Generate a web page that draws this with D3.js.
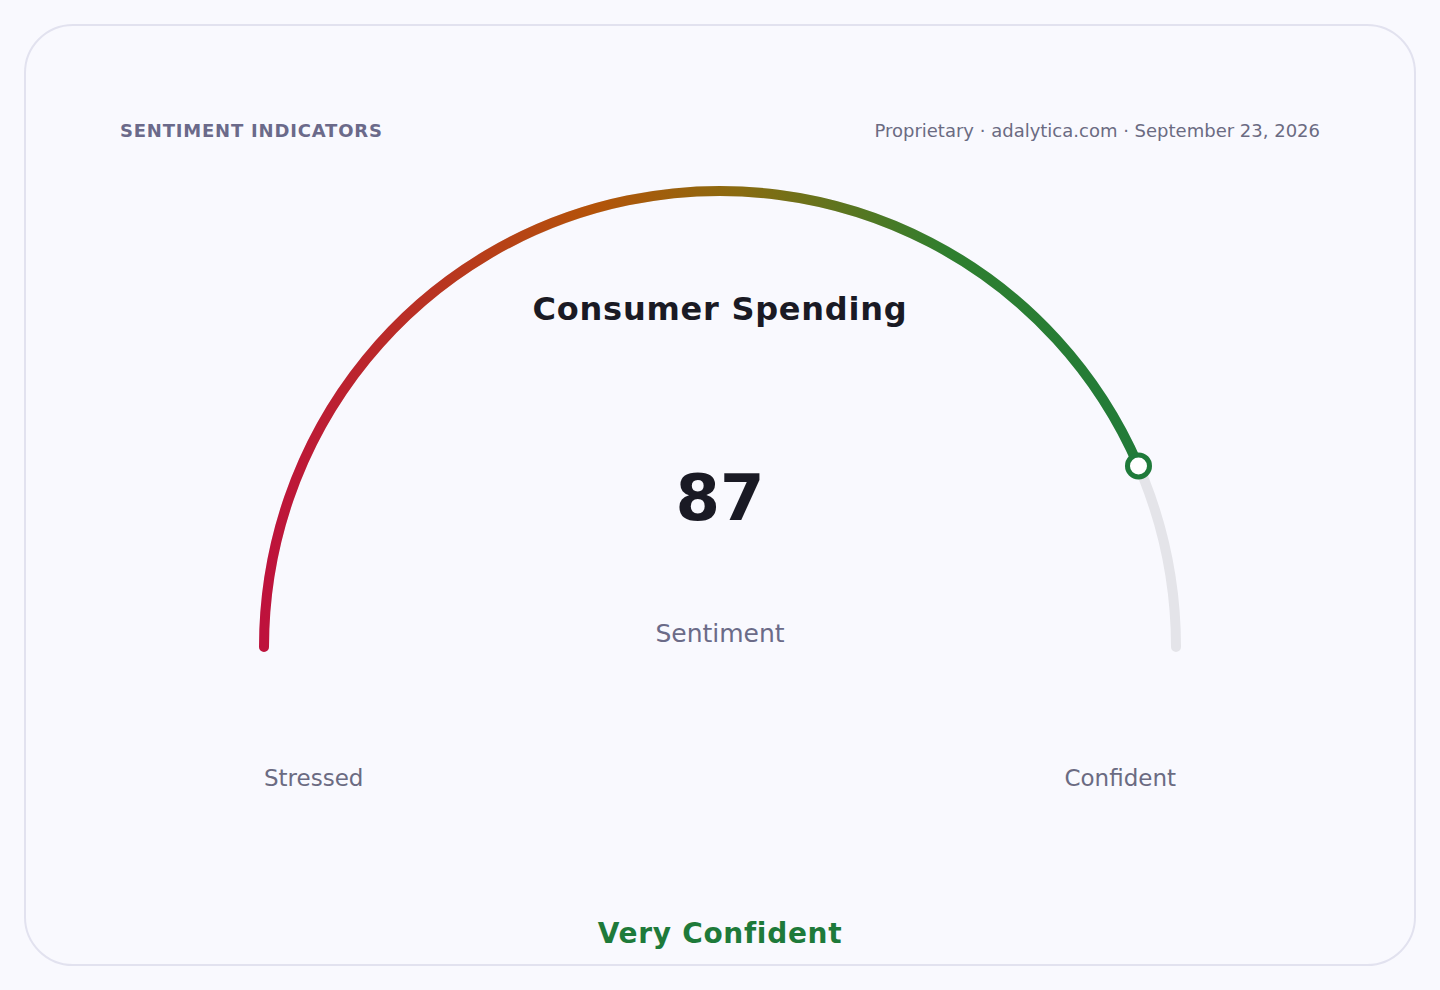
<!DOCTYPE html>
<html><head><meta charset="utf-8">
<script src="https://cdn.jsdelivr.net/npm/d3@7"></script>
<style>
html,body{margin:0;padding:0;background:#f9f9fe;}
svg{display:block;font-family:"DejaVu Sans",sans-serif;}
</style></head>
<body>
<svg id="chart" width="1440" height="990"></svg>
<script>
const eyebrow = "SENTIMENT INDICATORS";
const meta = "Proprietary · adalytica.com · September 23, 2026";
const title = "Consumer Spending";
const value = 87;
const domain = [0, 100];
const metricLabel = "Sentiment";
const endLabels = ["Stressed", "Confident"];
const verdict = "Very Confident";
const gradientStops = [
  {offset: 0, color: "#be123c"},
  {offset: 0.36, color: "#b45309"},
  {offset: 0.52, color: "#8a6b10"},
  {offset: 0.75, color: "#2f7f2f"},
  {offset: 1, color: "#1f7a3a"}
];

const svg = d3.select("#chart");
const cx = 720, cy = 647, R = 456;

svg.append("rect").attr("x",25).attr("y",25).attr("width",1390).attr("height",940)
  .attr("rx",48).attr("fill","#f9f9fe").attr("stroke","#e2e2ef").attr("stroke-width",2);

const defs = svg.append("defs");
const grad = defs.append("linearGradient").attr("id","g").attr("gradientUnits","userSpaceOnUse")
  .attr("x1",cx-R).attr("x2",cx+R).attr("y1",0).attr("y2",0);
grad.selectAll("stop").data(gradientStops).join("stop")
  .attr("offset",d=>d.offset).attr("stop-color",d=>d.color);

const angle = d3.scaleLinear().domain(domain).range([-Math.PI/2, Math.PI/2]);

function arcPath(a0,a1){
  const p = d3.path();
  p.arc(cx,cy,R,a0-Math.PI/2,a1-Math.PI/2,false);
  return p.toString();
}
svg.append("path").attr("d",arcPath(angle(domain[0]),angle(domain[1])))
  .attr("fill","none").attr("stroke","#e4e4e9").attr("stroke-width",10).attr("stroke-linecap","round");
svg.append("path").attr("d",arcPath(angle(domain[0]),angle(value)))
  .attr("fill","none").attr("stroke","url(#g)").attr("stroke-width",10).attr("stroke-linecap","round");

const a = angle(value);
svg.append("circle").attr("cx",cx+R*Math.sin(a)).attr("cy",cy-R*Math.cos(a)).attr("r",11)
  .attr("fill","#ffffff").attr("stroke","#1f7a3a").attr("stroke-width",5);

svg.append("text").attr("x",120).attr("y",137).text(eyebrow)
  .attr("font-size",18).attr("font-weight","bold").attr("fill","#6b6a8a").attr("letter-spacing",0.8);
svg.append("text").attr("x",1320).attr("y",137).attr("text-anchor","end").text(meta)
  .attr("font-size",18).attr("fill","#6b6b82");
svg.append("text").attr("x",cx).attr("y",320).attr("text-anchor","middle").text(title)
  .attr("font-size",32).attr("font-weight","bold").attr("fill","#1a1a24").attr("letter-spacing",0.75);
svg.append("text").attr("x",cx).attr("y",520).attr("text-anchor","middle").text(value)
  .attr("font-size",64).attr("font-weight","bold").attr("fill","#1a1a24");
svg.append("text").attr("x",cx).attr("y",642).attr("text-anchor","middle").text(metricLabel)
  .attr("font-size",25).attr("fill","#6b6b88");
svg.append("text").attr("x",cx-R).attr("y",786).text(endLabels[0])
  .attr("font-size",23).attr("fill","#6b6b82");
svg.append("text").attr("x",cx+R).attr("y",786).attr("text-anchor","end").text(endLabels[1])
  .attr("font-size",23).attr("fill","#6b6b82");
svg.append("text").attr("x",cx).attr("y",943).attr("text-anchor","middle").text(verdict)
  .attr("font-size",28).attr("font-weight","bold").attr("fill","#1e7a3a").attr("letter-spacing",0.7);
</script>
</body></html>
